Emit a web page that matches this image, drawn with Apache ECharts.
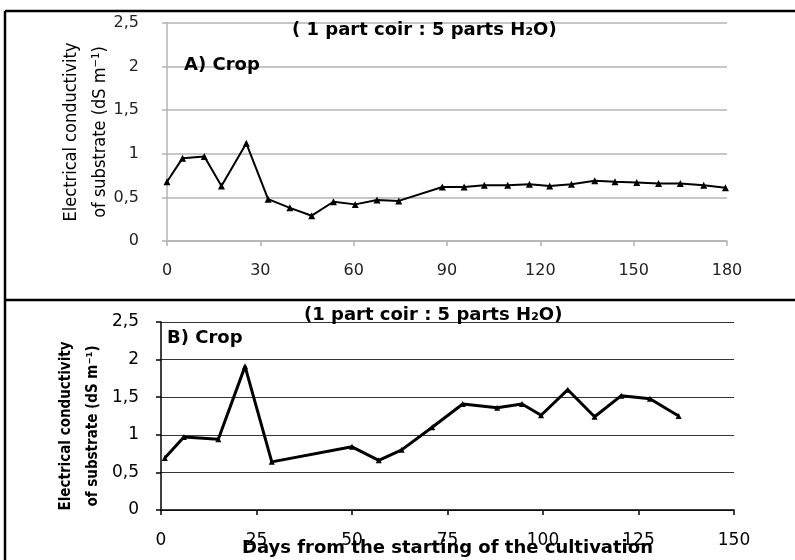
<!DOCTYPE html>
<html>
<head>
<meta charset="utf-8">
<script src="https://cdn.jsdelivr.net/npm/echarts@6.0.0/dist/echarts.min.js"></script>
<style>
  html, body { margin: 0; padding: 0; background: #fff; }
  #chart { width: 795px; height: 560px; }
</style>
</head>
<body>
<div id="chart"></div>
<script>
// Panel A: days and EC readings
const daysA = [0, 5, 12, 17.5, 25.5, 32.5, 39.5, 46.5, 53.5, 60.5, 67.5, 74.5,
  88.5, 95.5, 102, 109.5, 116.5, 123, 130, 137.5, 144, 151, 158, 165, 172.5, 179.5];
const ecA = [0.68, 0.95, 0.97, 0.63, 1.12, 0.48, 0.38, 0.29, 0.45, 0.42, 0.47, 0.46,
  0.62, 0.62, 0.64, 0.64, 0.65, 0.63, 0.65, 0.69, 0.68, 0.67, 0.66, 0.66, 0.64, 0.61];

// Panel B
const daysB = [1, 6, 15, 22, 29, 50, 57, 63, 71, 79, 88, 94.5, 99.5, 106.5, 113.5, 120.5, 128, 135.5];
const ecB = [0.69, 0.97, 0.94, 1.91, 0.64, 0.84, 0.66, 0.80, 1.10, 1.41, 1.36, 1.41, 1.26, 1.60, 1.24, 1.52, 1.48, 1.25];

const titleText = ['( 1 part coir : 5 parts H\u2082O)', '(1 part coir : 5 parts H\u2082O)'];
const panelLabels = ['A) Crop', 'B) Crop'];
const yTitle = 'Electrical conductivity\nof substrate (dS m\u207B\u00B9)';
const xTitle = 'Days from the starting of the cultivation';

const comma = v => String(v).replace('.', ',');
const numFont = 'DejaVu Sans';
const narrow = '"Liberation Sans Narrow", "DejaVu Sans Condensed", sans-serif';
const boldFont = 'DejaVu Sans';

const gridA = '#b3b3b3';
const gridB = '#333';

const option = {
  animation: false,
  backgroundColor: '#fff',
  title: [
    { text: titleText[0], left: 287, top: 16,
      textStyle: { fontFamily: boldFont, fontWeight: 'bold', fontSize: 18, color: '#000' } },
    { text: panelLabels[0], left: 179, top: 51,
      textStyle: { fontFamily: boldFont, fontWeight: 'bold', fontSize: 18, color: '#000' } },
    { text: titleText[1], left: 299, top: 301,
      textStyle: { fontFamily: boldFont, fontWeight: 'bold', fontSize: 18, color: '#000' } },
    { text: panelLabels[1], left: 162, top: 324,
      textStyle: { fontFamily: boldFont, fontWeight: 'bold', fontSize: 18, color: '#000' } }
  ],
  grid: [
    { left: 167, right: 68, top: 23, bottom: 319, outerBoundsMode: 'none', containLabel: false },
    { left: 161, right: 61, top: 322, bottom: 50, outerBoundsMode: 'none', containLabel: false }
  ],
  xAxis: [
    {
      type: 'value', gridIndex: 0, min: 0, max: 180, interval: 30,
      axisLine: { show: true, lineStyle: { color: gridA, width: 1.5 } },
      axisTick: { show: true, length: 5, lineStyle: { color: gridA, width: 1.5 } },
      axisLabel: { margin: 22, fontFamily: numFont, fontSize: 16, color: '#222' },
      splitLine: { show: false }
    },
    {
      type: 'value', gridIndex: 1, min: 0, max: 150, interval: 25,
      axisLine: { show: true, lineStyle: { color: '#000', width: 1.5 } },
      axisTick: { show: true, length: 5, lineStyle: { color: '#000', width: 1.5 } },
      axisLabel: { margin: 22, fontFamily: numFont, fontSize: 17, color: '#000' },
      splitLine: { show: false },
      name: xTitle, nameLocation: 'middle', nameGap: 29, nameMoveOverlap: false,
      nameTextStyle: { fontFamily: boldFont, fontWeight: 'bold', fontSize: 18, color: '#000' }
    }
  ],
  yAxis: [
    {
      type: 'value', gridIndex: 0, min: 0, max: 2.5, interval: 0.5,
      axisLine: { show: true, lineStyle: { color: gridA, width: 1.5 } },
      axisTick: { show: true, length: 5, lineStyle: { color: gridA, width: 1.5 } },
      axisLabel: { margin: 28, fontFamily: numFont, fontSize: 16, color: '#222', formatter: comma },
      splitLine: { show: true, lineStyle: { color: gridA, width: 1.5 } },
      name: yTitle, nameLocation: 'middle', nameGap: 52, nameRotate: 90, nameMoveOverlap: false,
      nameTextStyle: { fontFamily: narrow, fontSize: 18, lineHeight: 29, color: '#000', align: 'center' }
    },
    {
      type: 'value', gridIndex: 1, min: 0, max: 2.5, interval: 0.5,
      axisLine: { show: true, lineStyle: { color: '#000', width: 1.5 } },
      axisTick: { show: true, length: 5, lineStyle: { color: '#000', width: 1.5 } },
      axisLabel: { margin: 22, fontFamily: numFont, fontSize: 17, color: '#000', formatter: comma },
      splitLine: { show: true, lineStyle: { color: gridB, width: 1.2 } },
      name: yTitle, nameLocation: 'middle', nameGap: 54, nameRotate: 90, nameMoveOverlap: false,
      nameTextStyle: { fontFamily: narrow, fontWeight: 'bold', fontSize: 15, lineHeight: 27, color: '#000', align: 'center', padding: [0, 20, 0, 0] }
    }
  ],
  series: [
    {
      type: 'line', xAxisIndex: 0, yAxisIndex: 0,
      data: daysA.map((d, i) => [d, ecA[i]]),
      symbol: 'triangle', symbolSize: 7,
      lineStyle: { color: '#000', width: 2 },
      itemStyle: { color: '#000' }
    },
    {
      type: 'line', xAxisIndex: 1, yAxisIndex: 1,
      data: daysB.map((d, i) => [d, ecB[i]]),
      symbol: 'triangle', symbolSize: 6,
      lineStyle: { color: '#000', width: 3 },
      itemStyle: { color: '#000' }
    }
  ],
  graphic: [
    { type: 'line', shape: { x1: 5, y1: 11, x2: 795, y2: 11 }, style: { stroke: '#000', lineWidth: 2.5 } },
    { type: 'line', shape: { x1: 5, y1: 300, x2: 795, y2: 300 }, style: { stroke: '#000', lineWidth: 2.5 } },
    { type: 'line', shape: { x1: 5, y1: 11, x2: 5, y2: 560 }, style: { stroke: '#000', lineWidth: 2.5 } }
  ]
};

const chart = echarts.init(document.getElementById('chart'));
chart.setOption(option);
</script>
</body>
</html>
